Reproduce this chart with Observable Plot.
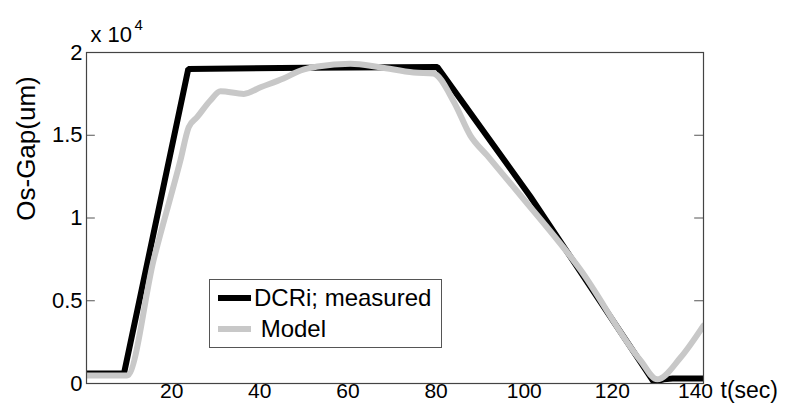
<!DOCTYPE html>
<html><head><meta charset="utf-8">
<script src="https://cdn.jsdelivr.net/npm/d3@7"></script>
<script src="https://cdn.jsdelivr.net/npm/@observablehq/plot@0.6"></script>
<style>
body{margin:0;background:#fff;font-family:"Liberation Sans",Arial,Helvetica,sans-serif;}
#wrap{position:relative;width:785px;height:404px;overflow:hidden;}
#legend{position:absolute;left:209px;top:279px;width:231px;height:67px;border:1px solid #555;background:#fff;}
.row{position:absolute;height:28px;line-height:28px;font-size:24px;color:#000;white-space:pre;}
.sw{position:absolute;left:8px;width:33px;height:6px;}
</style></head>
<body><div id="wrap"></div>
<script>
// measured (DCRi) series: time [s] and Os-Gap [um]
const tMeasured = [0, 8.5, 23.1, 50, 79.6, 100.7, 128.7, 131, 133, 140];
const measured  = [600, 600, 19010, 19080, 19130, 11300, 100, 250, 300, 300];
// model series
const tModel = [0, 9.2, 15.2, 21.3, 23.2, 25.1, 28.1, 30.4, 35.7, 39.5, 44.7, 48.6, 52.4, 59.9, 66.6, 74.2, 78.7, 83.4, 87.1, 90.9, 98.5, 112, 125.7, 129.5, 134.8, 140];
const model  = [480, 480, 7430, 13470, 15490, 16090, 17100, 17660, 17500, 17900, 18430, 18910, 19150, 19320, 19110, 18790, 18730, 17000, 14980, 13780, 11360, 6900, 1390, 250, 1570, 3500];
const xTicks = [20, 40, 60, 80, 100, 120];
const xLastTick = [140];
const yTicks = [0, 5000, 10000, 15000, 20000];
const yInnerTicks = [5000, 10000, 15000];
const seriesNames = ["DCRi; measured", " Model"];
const seriesColors = ["#000000", "#c8c8c8"];
const yLabel = "Os-Gap(um)";
const xLabel = "t(sec)";
const expBase = "x 10";
const expPow = "4";

const font = '"Liberation Sans", Arial, Helvetica, sans-serif';
const measuredData = tMeasured.map((t, i) => ({t, v: measured[i]}));
const modelData = tModel.map((t, i) => ({t, v: model[i]}));

const chart = Plot.plot({
  width: 785, height: 404,
  marginLeft: 86, marginRight: 82, marginTop: 52, marginBottom: 21,
  style: {fontFamily: font, fontSize: "22px", background: "white", color: "#000", overflow: "visible"},
  x: {domain: [0, 140], label: null, axis: null},
  y: {domain: [0, 20000], label: null},
  marks: [
    Plot.line(measuredData, {x: "t", y: "v", stroke: seriesColors[0], strokeWidth: 6, strokeLinejoin: "miter", clip: true}),
    Plot.line(modelData, {x: "t", y: "v", stroke: seriesColors[1], strokeWidth: 6, curve: "monotone-x", clip: true}),
    Plot.ruleY(yInnerTicks, {x1: 0, x2: 2, stroke: "#555", strokeWidth: 1}),
    Plot.ruleY(yInnerTicks, {x1: 138, x2: 140, stroke: "#555", strokeWidth: 1}),
    Plot.frame({stroke: "#444", strokeWidth: 1.2}),
    Plot.axisY(yTicks, {tickSize: 0, tickPadding: 4, fontSize: 22, tickFormat: d => String(d / 1e4), label: null}),
    Plot.text(xTicks, {x: d => d, frameAnchor: "bottom", lineAnchor: "middle", dy: 8, dx: -3, fontSize: 21, text: d => String(d)}),
    Plot.text(xLastTick, {x: d => d, frameAnchor: "bottom", lineAnchor: "middle", dy: 8, dx: -8, fontSize: 21, text: d => String(d)}),
    Plot.text([xLabel], {frameAnchor: "bottom-right", textAnchor: "start", lineAnchor: "middle", dx: 17, dy: 7.5, fontSize: 23, text: d => d}),
    Plot.text([yLabel], {frameAnchor: "top-left", textAnchor: "middle", lineAnchor: "middle", rotate: -90, dx: -60, dy: 96, fontSize: 26, text: d => d}),
    Plot.text([expBase], {frameAnchor: "top-left", textAnchor: "start", lineAnchor: "middle", dx: 4, dy: -18, fontSize: 22, text: d => d}),
    Plot.text([expPow], {frameAnchor: "top-left", textAnchor: "start", lineAnchor: "middle", dx: 48, dy: -27, fontSize: 15, text: d => d})
  ]
});

const wrap = document.getElementById("wrap");
wrap.appendChild(chart);

// legend
const legend = document.createElement("div");
legend.id = "legend";
const rowCenters = [18, 49];
const textLeft = [44, 44];
seriesNames.forEach((name, i) => {
  const sw = document.createElement("div");
  sw.className = "sw";
  sw.style.top = (rowCenters[i] - 3) + "px";
  sw.style.background = seriesColors[i];
  legend.appendChild(sw);
  const row = document.createElement("div");
  row.className = "row";
  row.style.left = textLeft[i] + "px";
  row.style.top = (rowCenters[i] - 14) + "px";
  row.textContent = name;
  legend.appendChild(row);
});
wrap.appendChild(legend);
</script>
</body></html>
